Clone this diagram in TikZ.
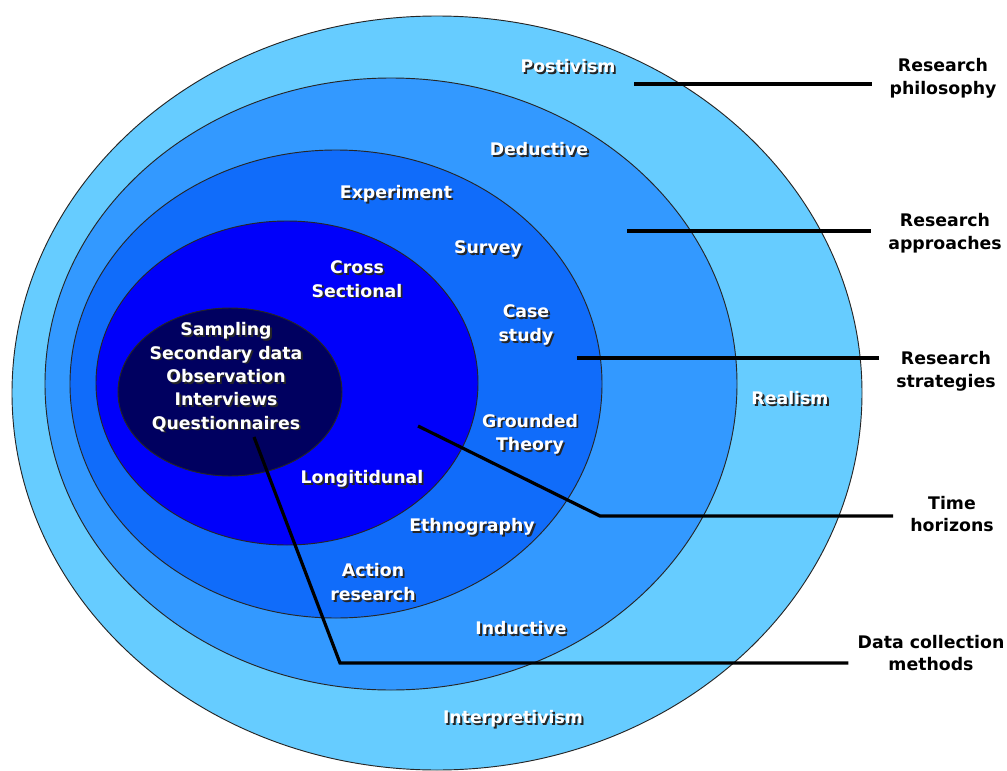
\documentclass[tikz,border=0pt]{standalone}
\usepackage{fontspec}
\setmainfont{DejaVu Sans}
\usetikzlibrary{positioning}

\definecolor{philoblue}{RGB}{102,204,255}
\definecolor{approachblue}{RGB}{51,153,255}
\definecolor{strategyblue}{RGB}{16,108,250}
\definecolor{horizonblue}{RGB}{0,0,250}
\definecolor{methodnavy}{RGB}{0,0,96}

% white label with a dark drop shadow
\newcommand{\shadowed}[1]{\rlap{\kern1.4pt\raisebox{-1.4pt}{\textcolor{black!85}{#1}}}#1}

\tikzset{
  ring/.style={draw=black!85, line width=0.7pt},
  inlabel/.style={font=\bfseries\fontsize{13}{17.5}\selectfont, text=white, align=center, inner sep=0.75pt},
  sidelabel/.style={font=\bfseries\fontsize{13}{17}\selectfont, align=center, inner sep=0.75pt},
  leader/.style={line width=2.4pt, black, shorten >=12pt}
}

\begin{document}
\begin{tikzpicture}[x=0.75pt,y=0.75pt,yscale=-1,xscale=1]
\useasboundingbox (0,0) rectangle (1007,771);

%Shape: Ellipses of the onion
\draw [ring, fill=philoblue] (437,393) ellipse [x radius=425, y radius=377];
\draw [ring, fill=approachblue] (391,384) ellipse [x radius=346, y radius=306];
\draw [ring, fill=strategyblue] (336,384) ellipse [x radius=266, y radius=234];
\draw [ring, fill=horizonblue] (287,383) ellipse [x radius=191, y radius=162];
\draw [ring, fill=methodnavy] (230,392) ellipse [x radius=112, y radius=84];

% Text Nodes inside
\node [inlabel] (postivism) at (568,67) {\shadowed{Postivism}};
\node [inlabel] (deductive) at (539,150) {\shadowed{Deductive}};
\node [inlabel] (experiment) at (396,195) {\shadowed{Experiment}};
\node [inlabel] (survey) at (488,250) {\shadowed{Survey}};
\node [inlabel] (cross) at (357,280) {\shadowed{Cross}\\\shadowed{Sectional}};
\node [inlabel] (casestudy) at (526,326) {\shadowed{Case}\\\shadowed{study}};
\node [inlabel] (methods) at (226,378) {\shadowed{Sampling}\\\shadowed{Secondary data}\\\shadowed{Observation}\\\shadowed{Interviews}\\\shadowed{Questionnaires}};
\node [inlabel] (realism) at (790,399) {\shadowed{Realism}};
\node [inlabel] (grounded) at (530,435) {\shadowed{Grounded}\\\shadowed{Theory}};
\node [inlabel] (longitudinal) at (362,480) {\shadowed{Longitidunal}};
\node [inlabel] (ethnography) at (472,528) {\shadowed{Ethnography}};
\node [inlabel] (action) at (373,583) {\shadowed{Action}\\\shadowed{research}};
\node [inlabel] (inductive) at (521,629) {\shadowed{Inductive}};
\node [inlabel] (interpretivism) at (513,720) {\shadowed{Interpretivism}};

% Text Nodes on the right
\node [sidelabel] (philosophy) at (943,78) {Research\\philosophy};
\node [sidelabel] (approaches) at (945,233) {Research\\approaches};
\node [sidelabel] (strategies) at (946,371) {Research\\strategies};
\node [sidelabel] (horizons) at (952,514) {Time\\horizons};
\node [sidelabel] (collection) at (931,653) {Data collection\\methods};

% leader lines
\coordinate (philoend) at (634,84);
\coordinate (approachend) at (627,231);
\coordinate (strategyend) at (577,358);
\coordinate (horizonend) at (418,426);
\coordinate (horizonbend) at (600,516);
\coordinate (methodend) at (254,437);
\coordinate (methodbend) at (340,663);

\draw [leader] (philoend) -- (philoend -| philosophy.west);
\draw [leader] (approachend) -- (approachend -| approaches.west);
\draw [leader] (strategyend) -- (strategyend -| strategies.west);
\draw [leader] (horizonend) -- (horizonbend) -- (horizonbend -| horizons.west);
\draw [leader, shorten >=6pt] (methodend) -- (methodbend) -- (methodbend -| collection.west);

\end{tikzpicture}
\end{document}
